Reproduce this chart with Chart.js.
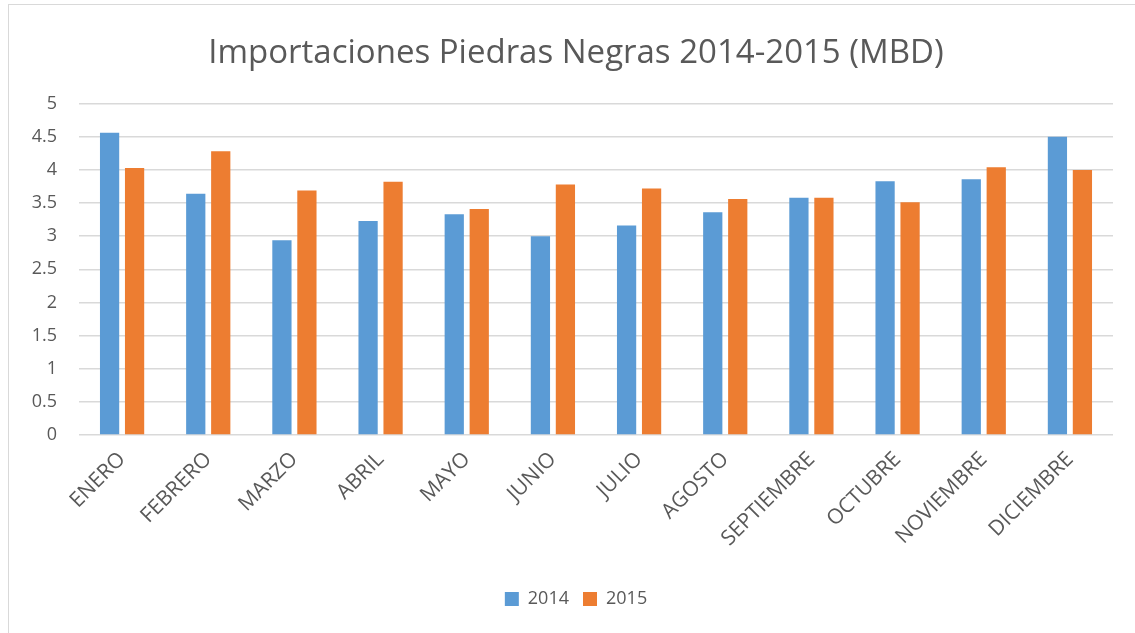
<!DOCTYPE html>
<html>
<head>
<meta charset="utf-8">
<script src="https://cdn.jsdelivr.net/npm/chart.js@4"></script>
<style>
  html, body { margin: 0; padding: 0; background: #fff; }
  #wrap { position: relative; width: 1135px; height: 633px; }
  #frame { position: absolute; left: 8px; top: 4px; right: -2px; bottom: -2px; border: 1px solid #d9d9d9; }
  canvas { position: absolute; left: 0; top: 0; }
</style>
</head>
<body>
<div id="wrap">
  <div id="frame"></div>
  <canvas id="chart" width="1135" height="633"></canvas>
</div>
<script>
// Datos
const meses = ['ENERO', 'FEBRERO', 'MARZO', 'ABRIL', 'MAYO', 'JUNIO', 'JULIO', 'AGOSTO', 'SEPTIEMBRE', 'OCTUBRE', 'NOVIEMBRE', 'DICIEMBRE'];
const valores2014 = [4.56, 3.64, 2.94, 3.23, 3.33, 3.00, 3.16, 3.36, 3.58, 3.83, 3.86, 4.50];
const valores2015 = [4.03, 4.28, 3.69, 3.82, 3.41, 3.78, 3.72, 3.56, 3.58, 3.51, 4.04, 4.00];
const titulo = 'Importaciones Piedras Negras 2014-2015 (MBD)';

const fuente = '"Open Sans", "Noto Sans", sans-serif';
const gris = '#595959';

// Centrar título y leyenda sobre el marco (como en Excel), no sobre el canvas
const centrarBloques = {
    id: 'centrarBloques',
    afterLayout(chart) {
        if (chart.titleBlock) chart.titleBlock.left = 39;
        if (chart.legend) chart.legend.left = 39;
    }
};

new Chart(document.getElementById('chart'), {
    type: 'bar',
    data: {
        labels: meses,
        datasets: [
            {
                label: '2014',
                data: valores2014,
                backgroundColor: '#5B9BD5',
                categoryPercentage: 0.58,
                barPercentage: 0.77
            },
            {
                label: '2015',
                data: valores2015,
                backgroundColor: '#ED7D31',
                categoryPercentage: 0.58,
                barPercentage: 0.77
            }
        ]
    },
    options: {
        responsive: false,
        animation: false,
        layout: {
            padding: { left: 8, right: 22, top: 22, bottom: 15 }
        },
        plugins: {
            title: {
                display: true,
                text: titulo,
                color: gris,
                font: { family: fuente, size: 33, weight: 'normal' },
                padding: { top: 12, bottom: 30 }
            },
            legend: {
                position: 'bottom',
                labels: {
                    color: gris,
                    font: { family: fuente, size: 18 },
                    boxWidth: 14,
                    boxHeight: 14,
                    padding: 14
                }
            },
            tooltip: { enabled: false }
        },
        scales: {
            x: {
                afterFit: (scale) => { scale.height = 141; },
                grid: { display: false },
                border: { display: false },
                ticks: {
                    color: gris,
                    font: { family: fuente, size: 21 },
                    minRotation: 45,
                    maxRotation: 45,
                    padding: 4
                }
            },
            y: {
                min: 0,
                max: 5,
                afterFit: (scale) => { scale.width = 71; },
                grid: { color: '#d9d9d9', lineWidth: 1.5, drawTicks: false },
                border: { display: false },
                ticks: {
                    stepSize: 0.5,
                    color: gris,
                    font: { family: fuente, size: 18 },
                    padding: 22,
                    callback: (v) => String(v)
                }
            }
        }
    },
    plugins: [centrarBloques]
});
</script>
</body>
</html>
